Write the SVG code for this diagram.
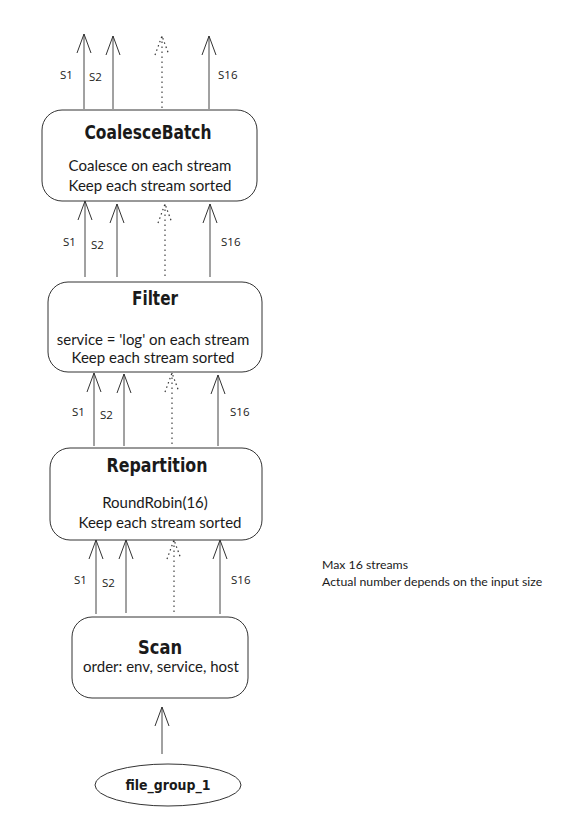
<svg xmlns="http://www.w3.org/2000/svg" width="568" height="822" viewBox="0 0 568 822">
<defs>
<marker id="ah" viewBox="-21 -9 23 18" refX="0" refY="0" markerWidth="23" markerHeight="18" markerUnits="userSpaceOnUse" orient="auto">
<path d="M-19,-7 L0,0 L-19,7" fill="none" stroke="#333" stroke-width="1"/>
</marker>
<marker id="ahd" viewBox="-21 -9 23 18" refX="0" refY="0" markerWidth="23" markerHeight="18" markerUnits="userSpaceOnUse" orient="auto">
<path d="M-19,-7 L0,0 L-19,7" fill="none" stroke="#333" stroke-width="1.2" stroke-dasharray="1.5,3"/>
</marker>
</defs>
<style>
.box{fill:#fff;stroke:#333;stroke-width:1}
.title{font-family:"DejaVu Sans Condensed","DejaVu Sans",sans-serif;font-weight:bold;font-size:20px;fill:#1a1a1a;text-anchor:middle}
.body{font-family:Lato,"Open Sans",sans-serif;font-size:15px;fill:#1a1a1a;text-anchor:middle}
.lbl{font-family:"Open Sans",Lato,sans-serif;font-size:11.5px;fill:#1a1a1a}
.note{font-family:Lato,"Open Sans",sans-serif;font-size:12.3px;fill:#1a1a1a}
.ln{stroke:#444;stroke-width:1;fill:none}
.dot{stroke:#444;stroke-width:1.2;fill:none;stroke-dasharray:1.5,3.5}
</style>
<rect width="568" height="822" fill="#fff"/>
<g id="connectors">
<line class="ln" x1="84" y1="109" x2="84" y2="34" marker-end="url(#ah)"/>
<line class="ln" x1="113" y1="109" x2="113" y2="36" marker-end="url(#ah)"/>
<line class="dot" x1="162" y1="108" x2="162" y2="36" marker-end="url(#ahd)"/>
<line class="ln" x1="209" y1="109" x2="209" y2="36" marker-end="url(#ah)"/>
<line class="ln" x1="85" y1="277" x2="85" y2="201" marker-end="url(#ah)"/>
<line class="ln" x1="117" y1="277" x2="117" y2="204" marker-end="url(#ah)"/>
<line class="dot" x1="165" y1="276" x2="165" y2="204" marker-end="url(#ahd)"/>
<line class="ln" x1="210" y1="277" x2="210" y2="204" marker-end="url(#ah)"/>
<line class="ln" x1="94" y1="446" x2="94" y2="373" marker-end="url(#ah)"/>
<line class="ln" x1="124" y1="446" x2="124" y2="374" marker-end="url(#ah)"/>
<line class="dot" x1="172" y1="444" x2="172" y2="373" marker-end="url(#ahd)"/>
<line class="ln" x1="218" y1="446" x2="218" y2="375" marker-end="url(#ah)"/>
<line class="ln" x1="96" y1="614" x2="96" y2="540" marker-end="url(#ah)"/>
<line class="ln" x1="126" y1="613" x2="126" y2="540" marker-end="url(#ah)"/>
<line class="dot" x1="174" y1="612" x2="174" y2="540" marker-end="url(#ahd)"/>
<line class="ln" x1="220" y1="614" x2="220" y2="540" marker-end="url(#ah)"/>
<line class="ln" x1="162" y1="754" x2="162" y2="707" marker-end="url(#ah)"/>
<text class="lbl" x="60" y="79">S1</text>
<text class="lbl" x="89" y="81">S2</text>
<text class="lbl" x="218" y="79">S16</text>
<text class="lbl" x="63" y="246">S1</text>
<text class="lbl" x="91" y="249">S2</text>
<text class="lbl" x="221" y="246">S16</text>
<text class="lbl" x="72" y="416">S1</text>
<text class="lbl" x="100" y="419">S2</text>
<text class="lbl" x="230" y="416">S16</text>
<text class="lbl" x="74" y="584">S1</text>
<text class="lbl" x="102" y="587">S2</text>
<text class="lbl" x="231" y="584">S16</text>
</g>
<g id="coalescebatch">
<rect class="box" x="42" y="110" width="215" height="91" rx="20"/>
<text class="title" x="148" y="139" textLength="127" lengthAdjust="spacingAndGlyphs">CoalesceBatch</text>
<text class="body" x="150" y="171">Coalesce on each stream</text>
<text class="body" x="150" y="191">Keep each stream sorted</text>
</g>
<g id="filter">
<rect class="box" x="48" y="282" width="214" height="90" rx="20"/>
<text class="title" x="155" y="305" textLength="46" lengthAdjust="spacingAndGlyphs">Filter</text>
<text class="body" x="153" y="345">service = 'log' on each stream</text>
<text class="body" x="153" y="363">Keep each stream sorted</text>
</g>
<g id="repartition">
<rect class="box" x="50" y="448" width="212" height="92" rx="20"/>
<text class="title" x="157" y="472" textLength="101" lengthAdjust="spacingAndGlyphs">Repartition</text>
<text class="body" x="155" y="508">RoundRobin(16)</text>
<text class="body" x="160" y="528">Keep each stream sorted</text>
</g>
<g id="scan">
<rect class="box" x="72" y="617" width="176" height="81" rx="20"/>
<text class="title" x="160" y="654" textLength="44" lengthAdjust="spacingAndGlyphs">Scan</text>
<text class="body" x="161" y="672">order: env, service, host</text>
</g>
<g id="file_group_1">
<ellipse class="box" cx="168" cy="785" rx="73" ry="21"/>
<text class="title" x="168" y="790" style="font-size:14px" textLength="85" lengthAdjust="spacingAndGlyphs">file_group_1</text>
</g>
<g id="note">
<text class="note" x="322" y="569">Max 16 streams</text>
<text class="note" x="322" y="586">Actual number depends on the input size</text>
</g>
</svg>
